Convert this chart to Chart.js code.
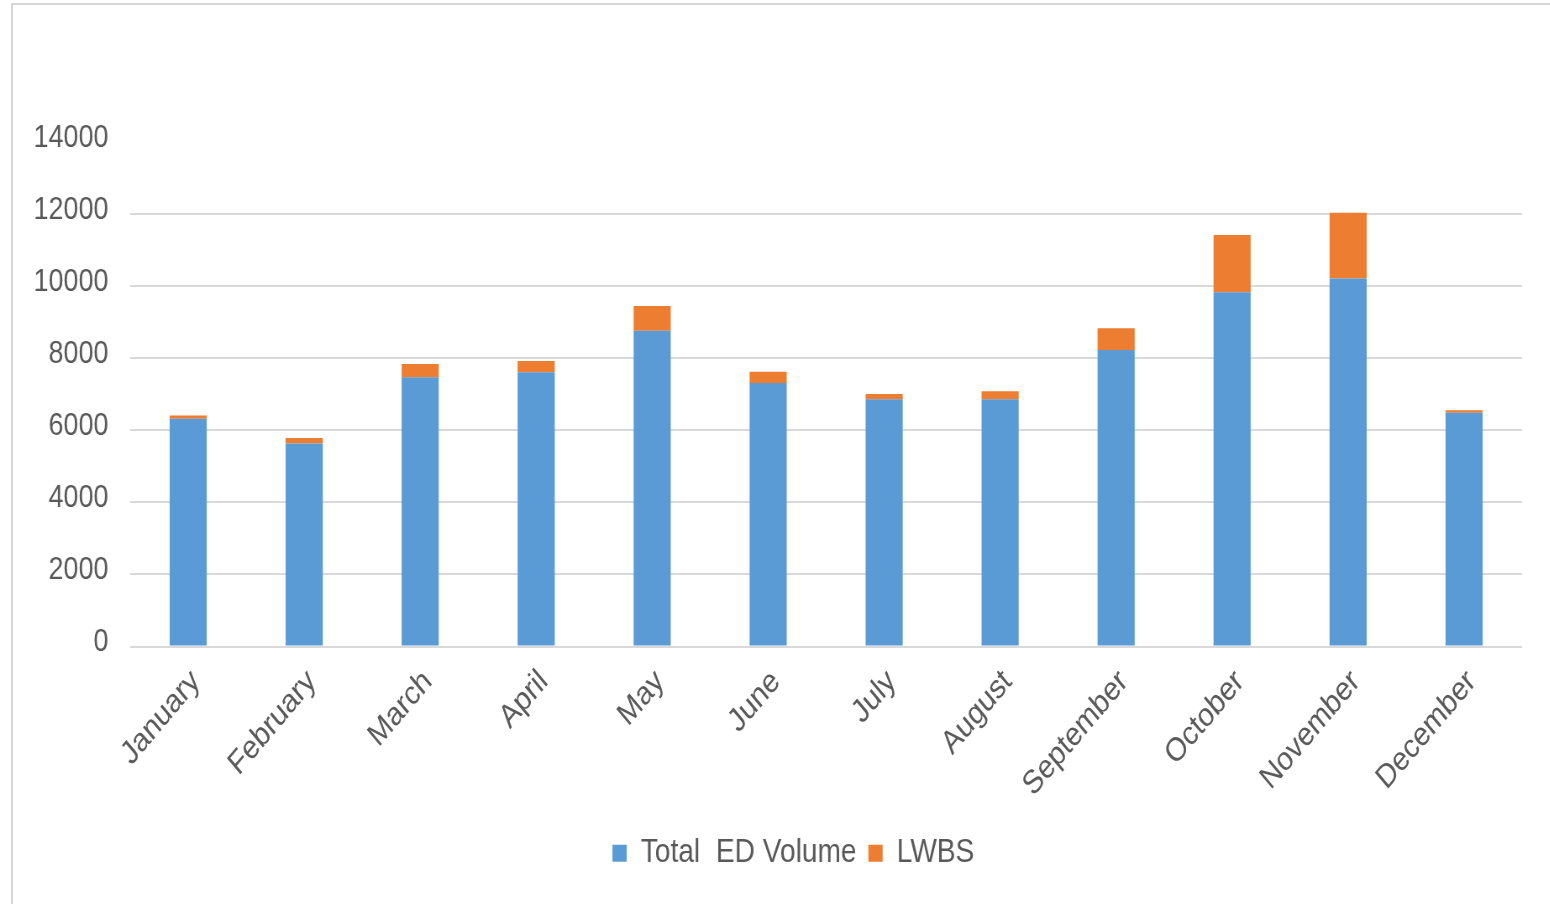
<!DOCTYPE html>
<html>
<head>
<meta charset="utf-8">
<script src="https://cdn.jsdelivr.net/npm/chart.js@4.4.1/dist/chart.umd.min.js"></script>
<style>
  html, body { margin: 0; padding: 0; background: #fff; overflow: hidden; }
  #frame {
    position: absolute; left: 11px; top: 3px; width: 1600px; height: 1000px;
    border-left: 2px solid #d6d6d6; border-top: 2px solid #d6d6d6;
  }
  /* the chart is drawn wide and squeezed horizontally to get the narrow lettering */
  #wrap {
    position: absolute; left: 0; top: 0; width: 1845px; height: 904px;
    transform: scaleX(0.84); transform-origin: 0 0;
  }
</style>
</head>
<body>
<div id="frame"></div>
<div id="wrap"><canvas id="c" width="1845" height="904"></canvas></div>
<script>
const months = ['January', 'February', 'March', 'April', 'May', 'June',
                'July', 'August', 'September', 'October', 'November', 'December'];
const totalEdVolume = [6320, 5630, 7470, 7610, 8760, 7310, 6860, 6860, 8230, 9830, 10210, 6490];
const lwbs = [90, 155, 370, 315, 690, 315, 145, 220, 600, 1590, 1825, 65];
const yMin = 0;
const yMax = 14000;
const yStep = 2000;

const textColor = '#595959';
const fontFamily = '"Liberation Sans", Arial, Helvetica, sans-serif';

// nudges the legend row sideways after layout
const legendShift = {
  id: 'legendShift',
  afterLayout(chart, args, opts) {
    const lg = chart.legend;
    if (!lg) return;
    lg.left += opts.dx;
    lg.right += opts.dx;
  }
};

new Chart(document.getElementById('c'), {
  type: 'bar',
  data: {
    labels: months,
    datasets: [
      {
        label: 'Total  ED Volume',
        data: totalEdVolume,
        backgroundColor: '#5B9BD5',
        barPercentage: 0.32,
        categoryPercentage: 1.0
      },
      {
        label: 'LWBS',
        data: lwbs,
        backgroundColor: '#ED7D31',
        barPercentage: 0.32,
        categoryPercentage: 1.0
      }
    ]
  },
  plugins: [legendShift],
  options: {
    responsive: false,
    animation: false,
    devicePixelRatio: 1,
    layout: { padding: { left: 10, right: 33, top: 142, bottom: 24 } },
    plugins: {
      tooltip: { enabled: false },
      legendShift: { dx: 33.5 },
      legend: {
        position: 'bottom',
        labels: {
          color: textColor,
          font: { family: fontFamily, size: 33.5 },
          boxWidth: 17,
          boxHeight: 17,
          padding: 14
        }
      }
    },
    scales: {
      x: {
        stacked: true,
        grid: { display: false },
        border: { display: false },
        ticks: {
          color: textColor,
          font: { family: fontFamily, size: 33 },
          minRotation: 45,
          maxRotation: 45,
          padding: 8,
          labelOffset: 9
        },
        afterFit(scale) { scale.height = 176; }
      },
      y: {
        stacked: true,
        min: yMin,
        max: yMax,
        border: { display: false },
        grid: {
          color: (ctx) => (ctx.tick && ctx.tick.value === yMax) ? 'rgba(0,0,0,0)' : '#d9d9d9',
          lineWidth: 2,
          drawTicks: false
        },
        ticks: {
          stepSize: yStep,
          color: textColor,
          font: { family: fontFamily, size: 32 },
          padding: 26,
          labelOffset: -4,
          callback: (value) => String(value)
        },
        afterFit(scale) { scale.width = 145; }
      }
    }
  }
});
</script>
</body>
</html>
